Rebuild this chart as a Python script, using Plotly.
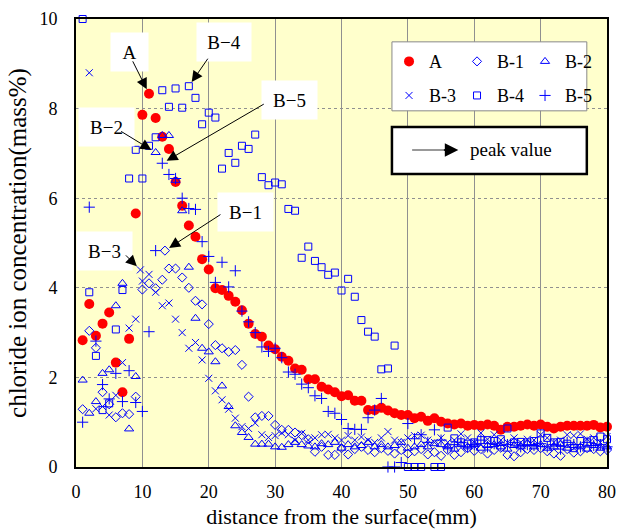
import plotly.graph_objects as go

# ---------------- data ----------------
a_x = list(range(1, 81))
a_y = [2.83, 3.64, 2.93, 3.2, 3.45, 2.33, 1.67, 2.86, 5.66, 7.86,
       8.33, 7.79, 7.37, 7.1, 6.36, 5.83, 5.39, 5.14, 4.64, 4.41,
       3.99, 3.95, 3.82, 3.69, 3.5, 3.2, 2.97, 2.91, 2.71, 2.63,
       2.46, 2.37, 2.2, 2.17, 1.96, 1.96, 1.79, 1.73, 1.67, 1.58,
       1.6, 1.48, 1.48, 1.27, 1.27, 1.32, 1.26, 1.2, 1.16, 1.16,
       1.09, 1.12, 1.03, 1.09, 1.01, 0.97, 0.95, 0.97, 0.92, 0.94,
       0.92, 0.95, 0.92, 0.83, 0.9, 0.9, 0.92, 0.95, 0.92, 0.95,
       0.9, 0.86, 0.9, 0.92, 0.92, 0.92, 0.92, 0.94, 0.88, 0.9]

b1_x = [1, 2, 3, 4, 5, 6, 7, 8, 9, 10, 11, 12, 13, 13.4, 14, 15, 16, 17, 18, 19, 20] + list(range(21, 81))
b1_y = [1.29, 3.04, 2.66, 1.67, 1.4, 1.11, 1.2, 1.18, 1.57, 3.96,
        4.1, 3.99, 4.18, 4.83, 4.43, 4.43, 4.23, 4.0, 3.71, 3.63, 3.19,
        2.72, 2.65, 2.57, 2.61, 2.28, 1.57, 1.11, 1.14, 1.14, 0.94,
        0.83, 0.83, 0.77, 0.71, 0.62, 0.34, 0.45, 0.27, 0.27, 0.42,
        0.28, 0.4, 0.45, 0.38, 0.33, 0.42, 0.36, 0.3, 0.38, 0.3,
        0.35, 0.4, 0.28, 0.33, 0.25, 0.38, 0.27, 0.33, 0.42, 0.36,
        0.4, 0.3, 0.38, 0.43, 0.27, 0.24, 0.33, 0.4, 0.38, 0.42,
        0.35, 0.3, 0.25, 0.4, 0.32, 0.35, 0.42, 0.4, 0.35, 0.38]

b2_x = [1, 2, 3, 4, 5, 6, 7, 8, 9] + list(range(12, 81))
b2_y = [1.94, 1.2, 1.46, 2.09, 2.17, 3.6, 4.1, 0.85, 2.02,
        7.02, 7.4, 7.4, 6.4, 5.72, 4.46, 3.32, 2.65, 2.57,
        2.35, 1.81, 1.35, 0.92, 0.77, 0.66, 0.51, 0.51, 0.51, 0.45,
        0.44, 0.5, 0.55, 0.5, 0.47, 0.45, 0.52, 0.5, 0.55, 0.42,
        0.5, 0.45, 0.48, 0.55, 0.45, 0.5, 0.45, 0.48, 0.55, 0.42,
        0.45, 0.5, 0.45, 0.52, 0.5, 0.45, 0.4, 0.5, 0.45, 0.5,
        0.42, 0.48, 0.5, 0.45, 0.4, 0.48, 0.45, 0.52, 0.45, 0.5,
        0.42, 0.45, 0.5, 0.42, 0.48, 0.45, 0.4, 0.48, 0.42, 0.45]

b3_x = [2, 3, 4, 5, 6, 7, 8, 9, 9.7, 10, 11] + list(range(12, 81))
b3_y = [8.8, 1.3, 1.35, 1.16, 1.6, 2.33, 3.1, 3.3, 4.4, 4.15, 4.3,
        3.9, 3.6, 3.66, 3.3, 3.0, 2.65, 2.78, 2.39, 1.98,
        1.7, 1.5, 1.29, 1.09, 0.9, 0.86, 0.98, 0.72, 0.66, 0.7,
        0.76, 0.72, 0.6, 0.75, 0.6, 0.65, 0.72, 0.73, 0.65, 0.6,
        0.7, 0.6, 0.67, 0.6, 0.55, 0.65, 0.79, 0.6, 0.55, 0.65,
        0.7, 0.71, 0.6, 0.55, 0.65, 0.55, 0.6, 0.74, 0.65, 0.55,
        0.76, 0.62, 0.72, 0.6, 0.55, 0.65, 0.55, 0.62, 0.6, 0.72,
        0.65, 0.55, 0.6, 0.72, 0.7, 0.74, 0.62, 0.65, 0.55, 0.68]

b4_x = list(range(1, 49)) + [50, 51, 52, 54, 55] + list(range(56, 81))
b4_y = [10.0, 3.9, 2.48, 1.27, 1.42, 3.07, 3.95, 6.44, 7.08, 6.44,
        7.17, 7.36, 8.41, 8.04, 8.45, 8.02, 8.5, 8.24, 7.65, 7.91,
        7.8, 6.66, 7.01, 6.79, 7.17, 7.1, 7.42, 6.47, 6.29, 6.35,
        6.31, 5.76, 5.72, 4.67, 4.92, 4.6, 4.46, 4.29, 4.34, 3.94,
        4.2, 3.8, 3.28, 3.02, 2.91, 2.18, 2.2, 2.71,
        0.0, 0.0, 0.0, 0.0, 0.0,
        0.88, 0.64, 0.55, 0.52, 0.55, 0.6, 0.6, 0.58, 0.62, 0.86,
        0.55, 0.56, 0.55, 0.58, 0.75, 0.65, 0.55, 0.56, 0.52, 0.42,
        0.58, 0.55, 0.6, 0.68, 0.62]

b5_x = list(range(1, 81))
b5_y = [1.0, 5.8, 2.81, 1.84, 1.52, 2.09, 1.46, 2.15, 1.44, 1.24,
        3.02, 4.83, 6.78, 6.53, 6.44, 6.0, 5.77, 5.75, 5.03, 4.7,
        4.12, 4.57, 4.02, 4.38, 3.48, 3.24, 3.0, 2.68, 2.58, 2.65,
        2.44, 2.12, 2.07, 1.85, 1.77, 1.59, 1.53, 1.24, 1.2, 1.06,
        0.86, 0.84, 0.84, 1.1, 1.27, 1.53, 0.0, 0.0, 0.1, 0.97,
        0.63, 0.72, 0.55, 0.83, 0.6, 0.43, 0.5, 0.55, 0.45, 0.5,
        0.6, 0.45, 0.52, 0.48, 0.5, 0.55, 0.45, 0.5, 0.48, 0.52,
        0.45, 0.5, 0.4, 0.55, 0.5, 0.45, 0.55, 0.48, 0.5, 0.45]

x_ticks = [0, 10, 20, 30, 40, 50, 60, 70, 80]
y_ticks = [0, 2, 4, 6, 8, 10]

# ---------------- figure ----------------
BLUE = "#0000FF"
SERIF = "Liberation Serif, Times New Roman, serif"

fig = go.Figure()
fig.add_trace(go.Scatter(x=a_x, y=a_y, mode="markers", name="A", legend="legend",
                         marker=dict(symbol="circle", size=10, color="#FF0000"),
                         cliponaxis=False))
fig.add_trace(go.Scatter(x=b1_x, y=b1_y, mode="markers", name="B-1", legend="legend",
                         marker=dict(symbol="diamond-open", size=7, color=BLUE, line=dict(width=1)),
                         cliponaxis=False))
fig.add_trace(go.Scatter(x=b2_x, y=b2_y, mode="markers", name="B-2", legend="legend",
                         marker=dict(symbol="triangle-up-open", size=8, color=BLUE, line=dict(width=1)),
                         cliponaxis=False))
fig.add_trace(go.Scatter(x=b3_x, y=b3_y, mode="markers", name="B-3", legend="legend2",
                         marker=dict(symbol="x-thin-open", size=7, color=BLUE, line=dict(width=1, color=BLUE)),
                         cliponaxis=False))
fig.add_trace(go.Scatter(x=b4_x, y=b4_y, mode="markers", name="B-4", legend="legend2",
                         marker=dict(symbol="square-open", size=7, color=BLUE, line=dict(width=1)),
                         cliponaxis=False))
fig.add_trace(go.Scatter(x=b5_x, y=b5_y, mode="markers", name="B-5", legend="legend2",
                         marker=dict(symbol="cross-thin-open", size=8, color=BLUE, line=dict(width=1, color=BLUE)),
                         cliponaxis=False))

leg_common = dict(orientation="h", xanchor="left", yanchor="top",
                  bgcolor="rgba(0,0,0,0)", borderwidth=0,
                  font=dict(family=SERIF, size=18), entrywidth=23,
                  itemwidth=30, tracegroupgap=0)

fig.update_layout(
    width=619, height=529,
    margin=dict(l=76, r=12, t=19, b=62, autoexpand=False),
    paper_bgcolor="white", plot_bgcolor="#FFFFCC",
    font=dict(family=SERIF, size=17, color="black"),
    legend=dict(x=0.5895, y=0.946, **leg_common),
    legend2=dict(x=0.5895, y=0.870, **leg_common),
    xaxis=dict(range=[0, 80], tickvals=x_ticks, ticks="", showgrid=True,
               gridcolor="#909090", gridwidth=1, zeroline=False, automargin=False,
               showline=True, linecolor="black", linewidth=2, mirror=True,
               tickfont=dict(size=18), ticklabelstandoff=7,
               title=dict(text="distance from the surface(mm)", font=dict(size=22), standoff=11)),
    yaxis=dict(range=[0, 10], tickvals=y_ticks, ticks="", showgrid=True,
               gridcolor="#909090", gridwidth=1, griddash="dot", zeroline=False, automargin=False,
               showline=True, linecolor="black", linewidth=2, mirror=True,
               tickfont=dict(size=18), ticklabelstandoff=13,
               title=dict(text="chloride ion concentration(mass%)", font=dict(size=25), standoff=6)),
)

# legend frame (drawn under the legends)
fig.add_shape(type="rect", xref="paper", yref="paper", x0=0.595, x1=0.962, y0=0.795, y1=0.949,
              line=dict(color="#888888", width=1), fillcolor="white")

# peak value key box
fig.add_shape(type="rect", xref="paper", yref="paper", x0=0.595, x1=0.962, y0=0.654, y1=0.759,
              line=dict(color="black", width=2.5), fillcolor="white")
fig.add_shape(type="line", xref="paper", yref="paper", x0=0.633, x1=0.70, y0=0.7076, y1=0.7076,
              line=dict(color="#999999", width=2))
fig.add_annotation(xref="x domain", yref="y domain", x=0.72, y=0.7076, ax=0.69, ay=0.7076,
                   axref="x domain", ayref="y domain", text="", showarrow=True,
                   arrowhead=2, arrowsize=1.8, arrowwidth=1.5, arrowcolor="black")
fig.add_annotation(xref="paper", yref="paper", x=0.738, y=0.7076, xanchor="left", yanchor="middle",
                   text="peak value", showarrow=False, font=dict(size=19))

# labels and arrows pointing to the peaks
labels = [
    # text, tip point (from data), tail offset px, label position (data units), box width
    ("A", (a_x[10], a_y[10]), (-17, -34), (8.0, 9.26), 35),
    ("B−4", (b4_x[16], b4_y[16]), (20, -29), (22.3, 9.49), 52),
    ("B−5", (b5_x[12], b5_y[12]), (103, -60), (32.1, 8.19), 53),
    ("B−2", (b2_x[9], b2_y[9]), (-36, -22), (4.63, 7.59), 53),
    ("B−1", (b1_x[13], b1_y[13]), (57, -37), (25.6, 5.69), 53),
    ("B−3", (b3_x[8], b3_y[8]), (-16, -16), (4.22, 4.82), 53),
]
for txt, (px, py), (ax, ay), (lx, ly), w in labels:
    fig.add_annotation(x=lx, y=ly, xref="x", yref="y", text=txt, showarrow=False,
                       bgcolor="white", width=w, height=36, font=dict(size=19))
for txt, (px, py), (ax, ay), (lx, ly), w in labels:
    fig.add_annotation(x=px, y=py, xref="x", yref="y", text="", showarrow=True,
                       ax=ax, ay=ay, arrowhead=2, arrowsize=2.2, arrowwidth=1,
                       arrowcolor="black", standoff=5)

fig.write_html("out.html")
